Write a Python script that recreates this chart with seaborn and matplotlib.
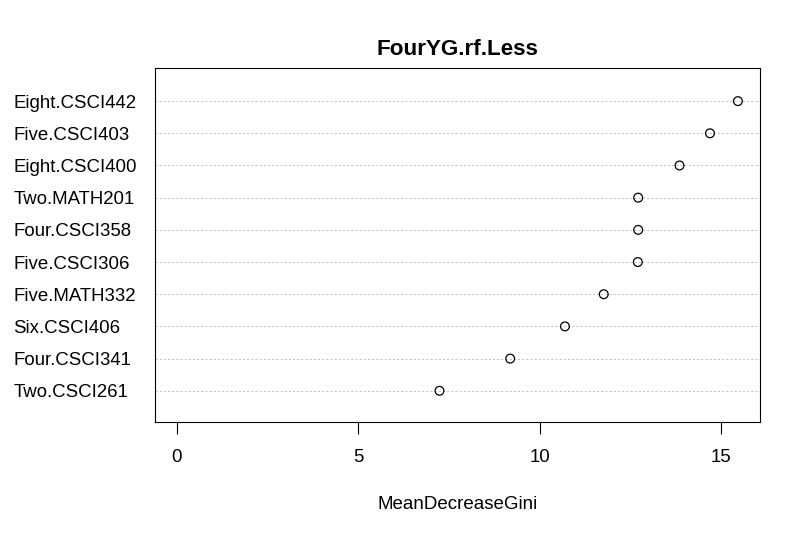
import matplotlib
matplotlib.use("Agg")
import matplotlib.pyplot as plt
import seaborn as sns
import pandas as pd

features = ["Eight.CSCI442", "Five.CSCI403", "Eight.CSCI400", "Two.MATH201",
            "Four.CSCI358", "Five.CSCI306", "Five.MATH332", "Six.CSCI406",
            "Four.CSCI341", "Two.CSCI261"]
mean_decrease_gini = [15.47, 14.70, 13.86, 12.72, 12.72, 12.71, 11.77, 10.70, 9.19, 7.24]
x_ticks = [0, 5, 10, 15]
title_text = "FourYG.rf.Less"
xlabel_text = "MeanDecreaseGini"

sns.set_style("white")
plt.rcParams['font.family'] = ['Liberation Sans', 'DejaVu Sans']
plt.rcParams['text.color'] = 'black'
plt.rcParams['axes.labelcolor'] = 'black'
plt.rcParams['xtick.color'] = 'black'
plt.rcParams['ytick.color'] = 'black'

df = pd.DataFrame({"feature": features, "gini": mean_decrease_gini})

fig = plt.figure(figsize=(8.04, 5.42), dpi=100)
ax = fig.add_axes([0.1922, 0.2208, 0.7535, 0.6532])

sns.stripplot(data=df, x="gini", y="feature", order=features, jitter=False,
              color="black", size=6.3, ax=ax, zorder=3)
for coll in ax.collections:
    coll.set_facecolor("none")
    coll.set_edgecolor("black")
    coll.set_linewidth(0.9)
    coll.set_sizes([40])

ax.set_axisbelow(True)
ax.grid(False)
ax.yaxis.grid(True, color="#c4c4c4", linestyle=(0, (2, 2)), linewidth=0.75)

mx = max(mean_decrease_gini)
ax.set_xlim(-0.04 * mx, mx * 1.04)
ax.set_ylim(len(features) - 0.02, -1.02)

ax.set_xticks(x_ticks)
ax.set_xticklabels([str(t) for t in x_ticks])
ax.tick_params(axis="x", bottom=True, direction="out", length=8.6, width=0.8,
               color="black", labelcolor="black", pad=10.6, labelsize=13.4)
ax.tick_params(axis="y", left=False, length=0, pad=101.5, labelsize=13.4,
               labelcolor="black")
for lbl in ax.get_yticklabels():
    lbl.set_horizontalalignment("left")

for sp in ax.spines.values():
    sp.set_visible(True)
    sp.set_color("black")
    sp.set_linewidth(0.8)

ax.set_ylabel("")
ax.set_xlabel(xlabel_text, fontsize=13.5, color="black")
ax.xaxis.set_label_coords(0.5, -0.208)
ax.set_title(title_text, fontsize=16.1, fontweight="bold", pad=9.6, color="black")

fig.savefig("out.png", dpi=100)
